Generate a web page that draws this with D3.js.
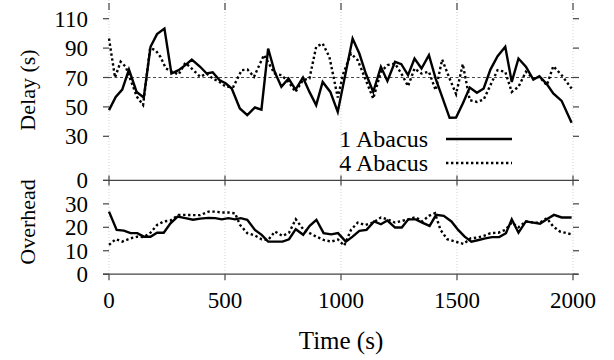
<!DOCTYPE html>
<html>
<head>
<meta charset="utf-8">
<script src="https://cdnjs.cloudflare.com/ajax/libs/d3/7.8.5/d3.min.js"></script>
<style>
body { margin: 0; background: #fff; }
text { font-family: "Liberation Serif", "Times New Roman", serif; fill: #000; }
</style>
</head>
<body>
<script>
// time ticks and y ticks
var timeTicks = [0, 500, 1000, 1500, 2000];
var delayTicks = [0, 30, 50, 70, 90, 110];
var overheadTicks = [0, 10, 20, 30];

// delay, 1 Abacus (solid)
var delay1Time = [0, 29, 57, 86, 119, 150, 179, 207, 239, 269, 300, 329, 357, 393, 421, 447, 476, 504, 529, 564,
    596, 629, 657, 686, 714, 743, 774, 804, 836, 864, 893, 921, 954, 986, 1050, 1079, 1107, 1139, 1172, 1200,
    1233, 1260, 1289, 1317, 1347, 1379, 1408, 1436, 1468, 1496, 1525, 1555, 1586, 1615, 1644, 1675, 1708, 1736,
    1765, 1797, 1829, 1855, 1887, 1915, 1951, 1994];
var delay1 = [47.8, 56.8, 61.8, 75.4, 60.2, 56.4, 90.9, 99.5, 103.3, 72.7, 75, 78.4, 82.2, 77.3, 72.7, 73.6, 68.2, 65.9, 62.5, 48.9,
    44.4, 49.6, 48.2, 89.7, 73.9, 63.7, 69.3, 61.8, 70, 60.2, 51.2, 67, 60.2, 46.6, 96.5, 86.3, 72.7, 60.2, 77.3, 67.7,
    80.7, 79.1, 71.6, 82.9, 76.1, 85.2, 69.3, 56.8, 42.6, 42.8, 52.3, 63.2, 59.6, 62.5, 75.4, 84.5, 90.9, 67,
    82.9, 77.3, 68.6, 70.9, 65.5, 59.1, 54.1, 39.2];

// delay, 4 Abacus (dotted)
var delay4Time = [0, 26, 50, 72, 120, 147, 177, 200, 222, 245, 271, 300, 329, 357, 393, 421, 447, 476, 504, 536,
    572, 597, 625, 668, 714, 743, 774, 804, 836, 864, 893, 921, 950, 986, 1010, 1043, 1072, 1107, 1139, 1172,
    1200, 1233, 1260, 1289, 1317, 1347, 1379, 1408, 1436, 1468, 1496, 1525, 1555, 1586, 1615, 1644, 1675, 1708,
    1736, 1765, 1797, 1829, 1855, 1887, 1915, 1951, 1994];
var delay4 = [96.5, 70, 80.7, 77.3, 57, 51.3, 90, 88.7, 84, 76.2, 74, 72, 80, 76, 70.5, 72.7, 69.3, 67, 63.7, 63.7,
    75, 75.4, 70.5, 85.3, 72.7, 71.6, 67, 60.2, 68.2, 69.3, 90.9, 93.1, 84, 56.4, 72.7, 86.3, 81.8, 68.2, 55.7, 73.9,
    78.4, 79.5, 72.7, 64.1, 76.1, 72.7, 73.9, 61.4, 82.2, 69.3, 58.7, 79.1, 54.6, 53.4, 55, 64.8, 75, 73.9,
    60.2, 63.7, 73.9, 69.3, 70.5, 64.8, 77.7, 71.6, 62.5];

// overhead, 1 Abacus (solid)
var over1Time = [0, 33, 64, 93, 122, 150, 179, 207, 236, 265, 296, 329, 362, 393, 429, 458, 486, 515, 543, 568,
    596, 629, 658, 686, 715, 748, 776, 805, 837, 865, 894, 925, 958, 987, 1021, 1050, 1079, 1110, 1143, 1172,
    1200, 1233, 1262, 1290, 1322, 1350, 1382, 1410, 1443, 1476, 1505, 1533, 1562, 1593, 1622, 1651, 1682, 1711,
    1736, 1765, 1797, 1829, 1858, 1887, 1918, 1951, 1994];
var over1 = [26.7, 18.9, 18.6, 17.5, 17.5, 16, 16, 17.7, 17.7, 21.7, 24.6, 23.9, 23.2, 23.7, 24, 23.9, 23.4, 23.9, 23.4, 23.9,
    23.2, 18.9, 16.8, 13.9, 13.9, 13.9, 14.9, 19.2, 16.8, 20.6, 23.2, 17.5, 17, 17.5, 13.9, 16, 18.5, 18.9, 22.5, 21.3,
    22.9, 19.9, 19.9, 23.4, 23.4, 22, 20.6, 25.3, 24.9, 22.5, 18.9, 16, 13.9, 14.6, 15.3, 15.8, 15.8, 17.5,
    23.4, 17.7, 22.5, 22, 21.5, 23.4, 25.3, 24.2, 24.2];

// overhead, 4 Abacus (dotted)
var over4Time = [0, 29, 57, 93, 122, 150, 179, 207, 236, 265, 300, 329, 362, 393, 429, 458, 486, 515, 543, 565,
    596, 629, 658, 686, 715, 748, 776, 805, 837, 865, 894, 925, 958, 987, 1014, 1043, 1072, 1104, 1139, 1172,
    1200, 1233, 1262, 1290, 1322, 1350, 1379, 1405, 1429, 1458, 1493, 1529, 1558, 1586, 1615, 1644, 1679, 1708,
    1736, 1765, 1797, 1829, 1858, 1887, 1915, 1944, 1994];
var over4 = [12.5, 14.9, 13.9, 15.3, 16, 15.8, 17.7, 21, 22.5, 22.9, 25.3, 25.3, 25.2, 25.2, 26.7, 26.7, 26.3, 26.3, 26, 21,
    17.5, 16.5, 14.9, 14.6, 18.2, 16.3, 17.7, 23.4, 19.2, 17.5, 16, 14.6, 13.9, 14.8, 12.2, 18.9, 22, 21, 22, 24.2,
    23.4, 22, 22.7, 23.4, 24.3, 22.5, 24.9, 26, 18.9, 14.9, 13.9, 12.9, 15.3, 15.6, 16.3, 17.5, 17.7, 18.9,
    22, 20, 22.5, 22, 22, 23.9, 20.3, 18.2, 17];

var legendNames = ["1 Abacus", "4 Abacus"];

var width = 614, height = 360;
var plot = {left: 109, right: 573};
var top_panel = {top: 4, bottom: 180.4};
var bot_panel = {top: 180.4, bottom: 274.2};

var svg = d3.select("body").append("svg")
    .attr("width", width)
    .attr("height", height);

var x = d3.scaleLinear().domain([0, 2000]).range([plot.left, plot.right]);
var yDelay = d3.scaleLinear().domain([0, 120]).range([top_panel.bottom, top_panel.top]);
var yOver = d3.scaleLinear().domain([0, 40]).range([bot_panel.bottom, bot_panel.top]);

var tickFont = 23, legendFont = 24, titleFont = 22;
var solidStyle = {w: 2.4, dash: null};
var dotStyle = {w: 2.4, dash: "2.4,2.6"};

// vertical grid (dotted, very light)
svg.append("g").selectAll("line")
    .data(timeTicks)
    .enter().append("line")
    .attr("x1", function(d) { return x(d); })
    .attr("x2", function(d) { return x(d); })
    .attr("y1", 0)
    .attr("y2", bot_panel.bottom)
    .attr("stroke", "#bbb")
    .attr("stroke-width", 0.7)
    .attr("stroke-dasharray", "1,2");

// reference line at 70
svg.append("line")
    .attr("x1", x(0)).attr("x2", x(2000))
    .attr("y1", yDelay(70)).attr("y2", yDelay(70))
    .attr("stroke", "#333")
    .attr("stroke-width", 0.9)
    .attr("stroke-dasharray", "3,2.5");

// horizontal borders
[bot_panel.top, bot_panel.bottom].forEach(function(yy) {
    svg.append("line")
        .attr("x1", plot.left - 6).attr("x2", plot.right + 5)
        .attr("y1", yy).attr("y2", yy)
        .attr("stroke", "#444")
        .attr("stroke-width", 1.3);
});

// x ticks
var xt = svg.append("g").attr("stroke", "#444").attr("stroke-width", 1.2);
timeTicks.forEach(function(t) {
    xt.append("line").attr("x1", x(t)).attr("x2", x(t)).attr("y1", 3).attr("y2", 10);
    xt.append("line").attr("x1", x(t)).attr("x2", x(t)).attr("y1", bot_panel.top - 5).attr("y2", bot_panel.top + 5);
    xt.append("line").attr("x1", x(t)).attr("x2", x(t)).attr("y1", bot_panel.bottom).attr("y2", bot_panel.bottom + 6);
});

function drawYAxis(scale, ticks) {
    var g = svg.append("g");
    ticks.forEach(function(v) {
        g.append("line")
            .attr("x1", plot.left - 6).attr("x2", plot.left)
            .attr("y1", scale(v)).attr("y2", scale(v))
            .attr("stroke", "#444").attr("stroke-width", 1.2);
        g.append("line")
            .attr("x1", plot.right).attr("x2", plot.right + 6)
            .attr("y1", scale(v)).attr("y2", scale(v))
            .attr("stroke", "#444").attr("stroke-width", 1.2);
        g.append("text")
            .attr("x", 88)
            .attr("y", scale(v))
            .attr("dy", "0.35em")
            .attr("text-anchor", "end")
            .style("font-size", tickFont + "px")
            .text(v);
    });
}
drawYAxis(yDelay, delayTicks);
drawYAxis(yOver, overheadTicks);

// x tick labels
svg.append("g").selectAll("text")
    .data(timeTicks)
    .enter().append("text")
    .attr("x", function(d) { return x(d); })
    .attr("y", 308)
    .attr("text-anchor", "middle")
    .style("font-size", tickFont + "px")
    .text(function(d) { return d; });

svg.append("text")
    .attr("x", x(1000))
    .attr("y", 349)
    .attr("text-anchor", "middle")
    .style("font-size", "25px")
    .text("Time (s)");

svg.append("text")
    .attr("transform", "translate(35,90) rotate(-90)")
    .attr("text-anchor", "middle")
    .style("font-size", titleFont + "px")
    .text("Delay (s)");

svg.append("text")
    .attr("transform", "translate(35,222) rotate(-90)")
    .attr("text-anchor", "middle")
    .style("font-size", titleFont + "px")
    .text("Overhead");

function drawSeries(times, vals, scale, style) {
    var pts = times.map(function(t, i) { return [t, vals[i]]; });
    var line = d3.line()
        .x(function(d) { return x(d[0]); })
        .y(function(d) { return scale(d[1]); });
    svg.append("path")
        .datum(pts)
        .attr("d", line)
        .attr("fill", "none")
        .attr("stroke", "#000")
        .attr("stroke-width", style.w)
        .attr("stroke-linejoin", "miter")
        .attr("stroke-dasharray", style.dash);
}

drawSeries(delay4Time, delay4, yDelay, dotStyle);
drawSeries(delay1Time, delay1, yDelay, solidStyle);
drawSeries(over4Time, over4, yOver, dotStyle);
drawSeries(over1Time, over1, yOver, solidStyle);

// legend
var legend = svg.append("g");
[solidStyle, dotStyle].forEach(function(s, i) {
    var ly = 139 + i * 24;
    legend.append("text")
        .attr("x", 428)
        .attr("y", ly)
        .attr("dy", "0.35em")
        .attr("text-anchor", "end")
        .style("font-size", legendFont + "px")
        .text(legendNames[i]);
    legend.append("line")
        .attr("x1", 446).attr("x2", 512)
        .attr("y1", ly).attr("y2", ly)
        .attr("stroke", "#000")
        .attr("stroke-width", s.w)
        .attr("stroke-dasharray", s.dash);
});
</script>
</body>
</html>
